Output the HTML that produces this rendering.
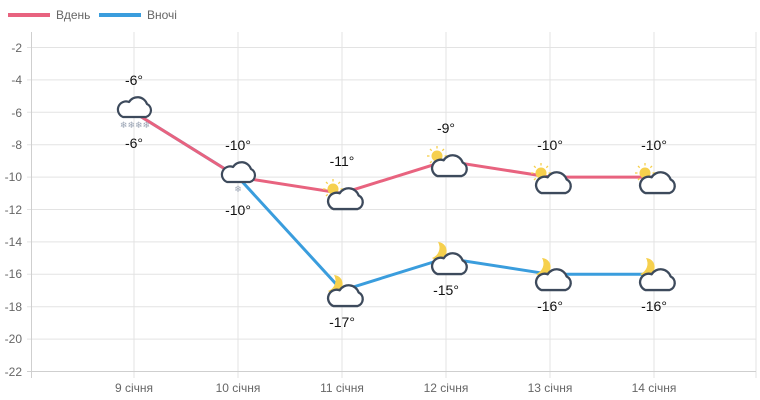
<!DOCTYPE html>
<html><head><meta charset="utf-8"><style>
html,body{margin:0;padding:0;background:#fff;}
svg{display:block;font-family:"Liberation Sans",sans-serif;}
</style></head><body>
<svg width="760" height="400" viewBox="0 0 760 400">
<defs>
<path id="cl" d="M8,21 H31 A7,7 0 0 0 32,8 A10,10 0 0 0 14,6 A8,8 0 0 0 8,21 Z" fill="#fff" stroke="#3d4a5c" stroke-width="2.2" stroke-linejoin="round"/>
<g id="sun"><circle cx="0" cy="0" r="5.5" fill="#f6d04d"/>
<g stroke="#f6d04d" stroke-width="1.3"><line x1="0" y1="-7.5" x2="0" y2="-10"/><line x1="5.3" y1="-5.3" x2="7" y2="-7"/><line x1="-5.3" y1="-5.3" x2="-7" y2="-7"/><line x1="7.5" y1="0" x2="10" y2="0"/><line x1="-7.5" y1="0" x2="-10" y2="0"/><line x1="-5.3" y1="5.3" x2="-7" y2="7"/></g></g>
<path id="moon" d="M-1,-10 A9,9 0 1 1 -7,6 A11,11 0 0 0 -1,-10 Z" fill="#f6d04d"/>
</defs>
<g stroke="#e3e3e3" stroke-width="1">
<line x1="27" y1="47.5" x2="756" y2="47.5"/><line x1="27" y1="79.9" x2="756" y2="79.9"/><line x1="27" y1="112.3" x2="756" y2="112.3"/><line x1="27" y1="144.7" x2="756" y2="144.7"/><line x1="27" y1="177.1" x2="756" y2="177.1"/><line x1="27" y1="209.5" x2="756" y2="209.5"/><line x1="27" y1="241.9" x2="756" y2="241.9"/><line x1="27" y1="274.3" x2="756" y2="274.3"/><line x1="27" y1="306.7" x2="756" y2="306.7"/><line x1="27" y1="339.1" x2="756" y2="339.1"/>
<line x1="134" y1="32" x2="134" y2="378"/><line x1="238" y1="32" x2="238" y2="378"/><line x1="342" y1="32" x2="342" y2="378"/><line x1="446" y1="32" x2="446" y2="378"/><line x1="550" y1="32" x2="550" y2="378"/><line x1="654" y1="32" x2="654" y2="378"/><line x1="756" y1="32" x2="756" y2="378"/>
</g>
<line x1="27" y1="371.5" x2="756" y2="371.5" stroke="#cfcfcf"/>
<line x1="31.5" y1="32" x2="31.5" y2="378" stroke="#cfcfcf"/>
<g font-size="12" fill="#666" text-anchor="end">
<text x="22" y="52">-2</text><text x="22" y="84">-4</text><text x="22" y="117">-6</text><text x="22" y="149">-8</text><text x="22" y="181">-10</text><text x="22" y="214">-12</text><text x="22" y="246">-14</text><text x="22" y="278">-16</text><text x="22" y="311">-18</text><text x="22" y="343">-20</text><text x="22" y="376">-22</text>
</g>
<g font-size="12" fill="#666" text-anchor="middle">
<text x="134" y="392">9 січня</text><text x="238" y="392">10 січня</text><text x="342" y="392">11 січня</text><text x="446" y="392">12 січня</text><text x="550" y="392">13 січня</text><text x="654" y="392">14 січня</text>
</g>
<rect x="8" y="13" width="42" height="4" fill="#e8637f"/>
<text x="56" y="19" font-size="12" fill="#666">Вдень</text>
<rect x="99" y="13" width="42" height="4" fill="#3a9ddd"/>
<text x="147" y="19" font-size="12" fill="#666">Вночі</text>
<polyline points="134,112.3 238,177.1 342,290.5 446,258.1 550,274.3 654,274.3" fill="none" stroke="#3a9ddd" stroke-width="3"/>
<polyline points="134,112.3 238,177.1 342,193.3 446,160.9 550,177.1 654,177.1" fill="none" stroke="#e8637f" stroke-width="3"/>
<use href="#cl" transform="translate(115,96)"/>
<text x="135" y="128" font-size="9" fill="#9aa4b4" text-anchor="middle">❄❄❄❄</text>
<use href="#cl" transform="translate(219,161)"/>
<text x="238" y="192" font-size="9" fill="#9aa4b4" text-anchor="middle">❄</text>
<use href="#sun" transform="translate(333,189)"/><use href="#cl" transform="translate(325,187) scale(1.05)"/>
<use href="#sun" transform="translate(437,156)"/><use href="#cl" transform="translate(429,154) scale(1.05)"/>
<use href="#sun" transform="translate(541,173)"/><use href="#cl" transform="translate(533,171) scale(1.05)"/>
<use href="#sun" transform="translate(645,173)"/><use href="#cl" transform="translate(637,171) scale(1.05)"/>
<use href="#moon" transform="translate(335,285)"/><use href="#cl" transform="translate(325,284) scale(1.05)"/>
<use href="#moon" transform="translate(439,252)"/><use href="#cl" transform="translate(429,252) scale(1.05)"/>
<use href="#moon" transform="translate(543,268)"/><use href="#cl" transform="translate(533,268) scale(1.05)"/>
<use href="#moon" transform="translate(647,268)"/><use href="#cl" transform="translate(637,268) scale(1.05)"/>
<g font-size="14" fill="#111" text-anchor="middle">
<text x="134" y="85">-6°</text><text x="134" y="148">-6°</text>
<text x="238" y="150">-10°</text><text x="238" y="215">-10°</text>
<text x="342" y="166">-11°</text><text x="342" y="327">-17°</text>
<text x="446" y="133">-9°</text><text x="446" y="295">-15°</text>
<text x="550" y="150">-10°</text><text x="550" y="311">-16°</text>
<text x="654" y="150">-10°</text><text x="654" y="311">-16°</text>
</g>
</svg>
</body></html>
